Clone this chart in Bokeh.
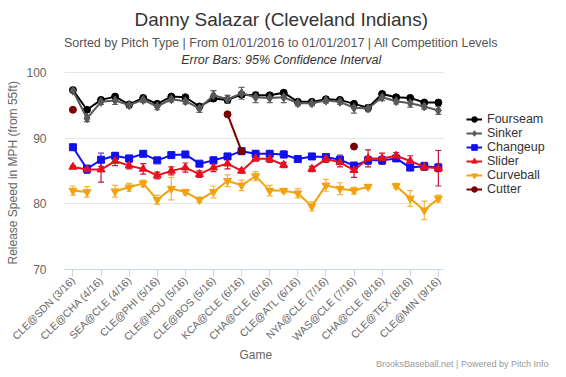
import math
from bokeh.plotting import figure
from bokeh.models import (ColumnDataSource, Whisker, TeeHead, Legend, LegendItem,
                          Title, Label, FixedTicker, Range1d)
from bokeh.embed import file_html
from bokeh.resources import INLINE

nan = float("nan")

games = [0, 1, 2, 3, 4, 5, 6, 7, 8, 9, 10, 11, 12, 13, 14, 15, 16, 17, 18, 19, 20, 21, 22, 23, 24, 25, 26]
tick_games = [0, 2, 4, 6, 8, 10, 12, 14, 16, 18, 20, 22, 24, 26]
tick_labels = ["CLE@SDN (3/16)", "CLE@CHA (4/16)", "SEA@CLE (4/16)", "CLE@PHI (5/16)",
               "CLE@HOU (5/16)", "CLE@BOS (5/16)", "KCA@CLE (6/16)", "CHA@CLE (6/16)",
               "CLE@ATL (6/16)", "NYA@CLE (7/16)", "WAS@CLE (7/16)", "CHA@CLE (8/16)",
               "CLE@TEX (8/16)", "CLE@MIN (9/16)"]
y_ticks = [70, 80, 90, 100]

fourseam = [97.3, 94.3, 95.8, 96.3, 95.1, 96.1, 95.2, 96.3, 96.2, 94.8, 96.0, 95.8, 96.6, 96.5,
            96.5, 96.9, 95.5, 95.5, 95.9, 95.8, 95.2, 94.6, 96.7, 96.2, 96.1, 95.4, 95.4]
fourseam_ci = [0.3, 0.3, 0.3, 0.3, 0.3, 0.3, 0.3, 0.3, 0.3, 0.3, 0.3, 0.3, 0.4, 0.3,
               0.3, 0.3, 0.3, 0.3, 0.3, 0.3, 0.3, 0.3, 0.3, 0.3, 0.3, 0.3, 0.3]
sinker = [97.2, 93.0, 95.5, 95.7, 95.0, 95.8, 94.8, 95.9, 95.6, 94.5, 96.5, 95.9, 96.8, 96.2,
          96.1, 96.2, 95.3, 95.3, 95.7, 95.5, 94.6, 94.5, 96.2, 95.6, 95.3, 94.8, 94.2]
sinker_ci = [0.3, 0.5, 0.4, 0.6, 0.4, 0.4, 0.5, 0.4, 0.4, 0.6, 0.7, 0.6, 0.9, 0.8,
             0.7, 0.8, 0.4, 0.4, 0.4, 0.4, 0.8, 0.5, 0.5, 0.4, 0.6, 0.4, 0.6]
changeup = [88.6, 85.3, 86.7, 87.3, 86.9, 87.6, 86.6, 87.4, 87.5, 86.1, 86.6, 87.2, 88.0, 87.6,
            87.6, 87.5, 86.8, 87.2, 87.1, 86.7, 85.8, 86.6, 86.6, 86.9, 85.5, 85.7, 85.5]
changeup_ci = [0.3, 0.6, 1.0, 0.4, 0.3, 0.3, 0.3, 0.3, 0.3, 0.3, 0.5, 0.3, 0.3, 0.5,
               0.4, 0.5, 0.3, 0.3, 0.3, 0.7, 0.5, 0.6, 0.6, 0.4, 0.3, 0.6, 0.6]
slider = [85.6, 85.2, 85.2, 86.5, 85.8, 85.3, 84.3, 85.0, 85.5, 84.5, 85.5, 86.1, 85.0, 86.9,
          86.8, 85.9, nan, 85.3, 86.8, 86.3, 85.1, 86.9, 86.9, 87.3, 86.5, 85.6, 85.4]
slider_ci = [0.2, 0.6, 1.9, 0.7, 0.5, 0.8, 0.5, 0.6, 0.7, 0.5, 0.6, 0.8, 0.3, 0.4,
             0.5, 0.4, nan, 0.4, 0.5, 0.7, 1.1, 1.3, 0.8, 0.5, 0.8, 0.5, 2.7]
curveball = [82.0, 81.8, nan, 81.9, 82.5, 83.1, 80.6, 82.3, 81.8, 80.6, 81.8, 83.5, 82.8, 84.2,
             82.0, 82.0, 81.6, 79.6, 82.8, 82.3, 82.0, 82.6, nan, 82.7, 80.8, 79.0, 80.8]
curveball_ci = [0.7, 0.8, nan, 0.9, 0.6, 0.5, 0.7, 1.7, 0.4, 0.4, 0.9, 0.9, 0.8, 0.7,
                0.8, 0.3, 0.7, 0.7, 0.9, 0.9, 0.5, 0.3, nan, 0.4, 1.2, 1.4, 0.5]
cutter = [94.3, nan, nan, nan, nan, nan, nan, nan, nan, nan, nan, 93.6, 88.0, nan,
          nan, nan, nan, nan, nan, nan, 88.7, nan, nan, nan, nan, nan, nan]

series = [
    ("Fourseam", fourseam, fourseam_ci, "#000000", "#333333", "circle", 7),
    ("Sinker", sinker, sinker_ci, "#585858", "#666666", "diamond", 9),
    ("Changeup", changeup, changeup_ci, "#1010f0", "#7a3aa8", "square", 7),
    ("Slider", slider, slider_ci, "#e8101c", "#c0183c", "triangle", 8),
    ("Curveball", curveball, curveball_ci, "#f2a20c", "#f5b43a", "inverted_triangle", 8),
    ("Cutter", cutter, None, "#7a0000", "#7a0000", "circle", 7),
]

FONT = "Liberation Sans"

# data area spans games -0.6 .. 26.4 and 70..100 mph; the frame is extended
# up and right so that titles and legend can sit inside it
X_LO, X_HI = -0.6, 26.4
Y_LO, Y_HI = 70, 100

p = figure(width=550, height=369, x_range=Range1d(X_LO, 33.98), y_range=Range1d(Y_LO, 110.92),
           output_backend="svg", toolbar_location=None,
           min_border_left=59, min_border_right=0, min_border_top=0, min_border_bottom=100)
p.outline_line_color = None
p.background_fill_color = "white"
p.title.text = ""
p.title.standoff = 0

# titles as labels placed in the free area above the data
p.add_layout(Label(x=14.82, y=108.0, text="Danny Salazar (Cleveland Indians)",
                   text_align="center", text_baseline="middle", text_font=FONT,
                   text_font_size="19px", text_color="#333333"))
p.add_layout(Label(x=14.82, y=104.4,
                   text="Sorted by Pitch Type | From 01/01/2016 to 01/01/2017 | All Competition Levels",
                   text_align="center", text_baseline="middle", text_font=FONT,
                   text_font_size="12.5px", text_color="#555555"))
p.add_layout(Label(x=14.82, y=101.9, text="Error Bars: 95% Confidence Interval",
                   text_align="center", text_baseline="middle", text_font=FONT,
                   text_font_size="12.5px", text_font_style="italic", text_color="#333333"))

# axes
p.xaxis.bounds = (X_LO, X_HI)
p.xaxis.ticker = FixedTicker(ticks=tick_games)
p.xaxis.major_label_overrides = {g: lab for g, lab in zip(tick_games, tick_labels)}
p.xaxis.major_label_orientation = math.pi / 4
p.xaxis.major_label_text_font = FONT
p.xaxis.major_label_text_font_size = "10.5px"
p.xaxis.major_label_text_color = "#666666"
p.xaxis.major_label_standoff = 2
p.xaxis.axis_line_color = "#ccd6eb"
p.xaxis.major_tick_line_color = "#ccd6eb"
p.xaxis.major_tick_out = 7
p.xaxis.major_tick_in = 0
p.xaxis.minor_tick_line_color = None
p.xgrid.visible = False

p.yaxis.bounds = (Y_LO, Y_HI)
p.yaxis.ticker = FixedTicker(ticks=y_ticks)
p.yaxis.axis_line_color = None
p.yaxis.major_tick_line_color = None
p.yaxis.minor_tick_line_color = None
p.yaxis.major_label_text_font = FONT
p.yaxis.major_label_text_font_size = "12px"
p.yaxis.major_label_text_color = "#666666"
p.yaxis.major_label_standoff = 12
p.ygrid.ticker = FixedTicker(ticks=y_ticks)
p.ygrid.grid_line_color = "#e6e6e6"
try:
    p.ygrid.cross_bounds = (X_LO, X_HI)
except Exception:
    p.ygrid.visible = False
    p.segment(x0=[X_LO] * len(y_ticks), y0=y_ticks, x1=[X_HI] * len(y_ticks), y1=y_ticks,
              line_color="#e6e6e6", line_width=1, level="underlay")

# axis titles (placed as titles so they centre on the data area, not the whole frame)
p.add_layout(Title(text="Release Speed in MPH (from 55ft)", align="left", offset=5,
                   vertical_align="bottom", text_font=FONT, text_font_size="12px",
                   text_font_style="normal", text_color="#666666", standoff=6.6), "left")
p.add_layout(Title(text="Game", align="left", offset=175, vertical_align="top",
                   text_font=FONT, text_font_size="12px", text_font_style="normal",
                   text_color="#666666", standoff=-5), "below")
p.add_layout(Title(text="BrooksBaseball.net | Powered by Pitch Info", align="right", offset=2,
                   vertical_align="top", text_font=FONT, text_font_size="9px",
                   text_font_style="normal", text_color="#999999", standoff=-6), "below")

items = []
for name, vals, ci, color, ecolor, marker, size in series:
    src = ColumnDataSource(dict(x=games, y=vals))
    ln = p.line("x", "y", source=src, line_color=color, line_width=2)
    sc = p.scatter("x", "y", source=src, marker=marker, size=size, fill_color=color,
                   line_color=color)
    items.append(LegendItem(label=name, renderers=[ln, sc]))
    if ci is not None:
        lo = [v - c for v, c in zip(vals, ci)]
        hi = [v + c for v, c in zip(vals, ci)]
        esrc = ColumnDataSource(dict(x=games, lo=lo, hi=hi))
        w = Whisker(source=esrc, base="x", lower="lo", upper="hi", line_color=ecolor,
                    line_width=1.2,
                    upper_head=TeeHead(size=6, line_color=ecolor, line_width=1.2),
                    lower_head=TeeHead(size=6, line_color=ecolor, line_width=1.2))
        p.add_layout(w)

legend = Legend(items=items, location=(402, 73), orientation="vertical",
                label_text_font=FONT, label_text_font_size="12.5px", label_text_color="#333333",
                label_height=14, glyph_height=14, glyph_width=16, spacing=0, padding=0,
                margin=0, label_standoff=5, border_line_color=None,
                background_fill_alpha=0)
p.add_layout(legend, "center")

open("out.html", "w").write(file_html(p, INLINE))
